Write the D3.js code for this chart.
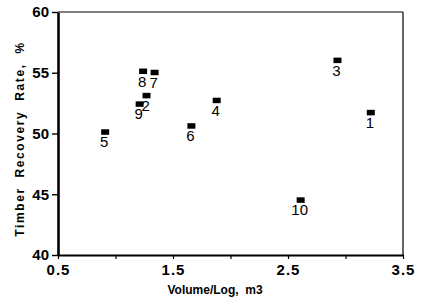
<!DOCTYPE html>
<html>
<head>
<meta charset="utf-8">
<script src="https://cdn.jsdelivr.net/npm/d3@7"></script>
<style>
  body { margin: 0; background: #fff; }
  text { font-family: "Liberation Sans", Arial, sans-serif; fill: #000; }
</style>
</head>
<body>
<div id="chart"></div>
<script>
// sample number, volume per log (m3), timber recovery rate (%)
const ids = ['1', '2', '3', '4', '5', '6', '7', '8', '9', '10'];
const volume = [3.22, 1.27, 2.93, 1.88, 0.91, 1.66, 1.34, 1.24, 1.21, 2.61];
const recovery = [51.7, 53.1, 56.0, 52.7, 50.1, 50.6, 55.0, 55.1, 52.4, 44.5];

const xTicks = [0.5, 1.0, 1.5, 2.0, 2.5, 3.0, 3.5];
const xLabels = [0.5, 1.5, 2.5, 3.5];
const yTicks = [40, 45, 50, 55, 60];

const width = 423;
const height = 306;
const margin = { top: 12, right: 20, bottom: 51, left: 58 };
const w = width - margin.left - margin.right;
const h = height - margin.top - margin.bottom;

const svg = d3.select('#chart').append('svg')
  .attr('width', width)
  .attr('height', height);

const g = svg.append('g')
  .attr('transform', `translate(${margin.left},${margin.top})`);

const xScale = d3.scaleLinear().domain([0.5, 3.5]).range([0, w]);
const yScale = d3.scaleLinear().domain([40, 60]).range([h, 0]);

// frame: top and right thin
g.append('line')
  .attr('x1', 0).attr('x2', w).attr('y1', 0).attr('y2', 0)
  .attr('stroke', '#000').attr('stroke-width', 1.2);
g.append('line')
  .attr('x1', w).attr('x2', w).attr('y1', 0).attr('y2', h)
  .attr('stroke', '#000').attr('stroke-width', 1.2);

// x axis
const xAxis = g.append('g')
  .attr('transform', `translate(0,${h})`)
  .call(d3.axisBottom(xScale)
    .tickValues(xTicks)
    .tickSizeInner(4)
    .tickSizeOuter(0)
    .tickPadding(5)
    .tickFormat(d => (xLabels.includes(d) ? d3.format('.1f')(d) : '')));
xAxis.select('.domain').attr('stroke-width', 2.2);
xAxis.selectAll('.tick line').attr('stroke-width', 1.2);
xAxis.selectAll('.tick text')
  .style('font-family', '"Liberation Sans", Arial, sans-serif')
  .style('font-size', '15px')
  .style('font-weight', 'bold')
  .style('letter-spacing', '1px');

// y axis
const yAxis = g.append('g')
  .call(d3.axisLeft(yScale)
    .tickValues(yTicks)
    .tickSizeInner(6)
    .tickSizeOuter(0)
    .tickPadding(3)
    .tickFormat(d3.format('d')));
yAxis.select('.domain').attr('stroke-width', 2.6);
yAxis.selectAll('.tick line').attr('stroke-width', 1.4);
yAxis.selectAll('.tick text')
  .style('font-family', '"Liberation Sans", Arial, sans-serif')
  .style('font-size', '15px')
  .style('font-weight', 'bold');

// points
const pts = ids.map((id, i) => ({ id, x: volume[i], y: recovery[i] }));

g.selectAll('.pt')
  .data(pts)
  .enter().append('rect')
  .attr('class', 'pt')
  .attr('x', d => xScale(d.x) - 4)
  .attr('y', d => yScale(d.y) - 3)
  .attr('width', 8)
  .attr('height', 5.5)
  .attr('fill', '#000');

g.selectAll('.lbl')
  .data(pts)
  .enter().append('text')
  .attr('class', 'lbl')
  .attr('x', d => xScale(d.x) - 1)
  .attr('y', d => yScale(d.y) + 15)
  .attr('text-anchor', 'middle')
  .style('font-size', '15px')
  .text(d => d.id);

// axis titles
svg.append('text')
  .attr('x', 215)
  .attr('y', 294)
  .attr('text-anchor', 'middle')
  .style('font-size', '12px')
  .style('font-weight', 'bold')
  .style('white-space', 'pre')
  .text('Volume/Log,  m3');

svg.append('text')
  .attr('transform', 'translate(24,139) rotate(-90)')
  .attr('text-anchor', 'middle')
  .style('font-size', '12px')
  .style('font-weight', 'bold')
  .style('letter-spacing', '1.6px')
  .style('white-space', 'pre')
  .text('Timber  Recovery  Rate,  %');
</script>
</body>
</html>
